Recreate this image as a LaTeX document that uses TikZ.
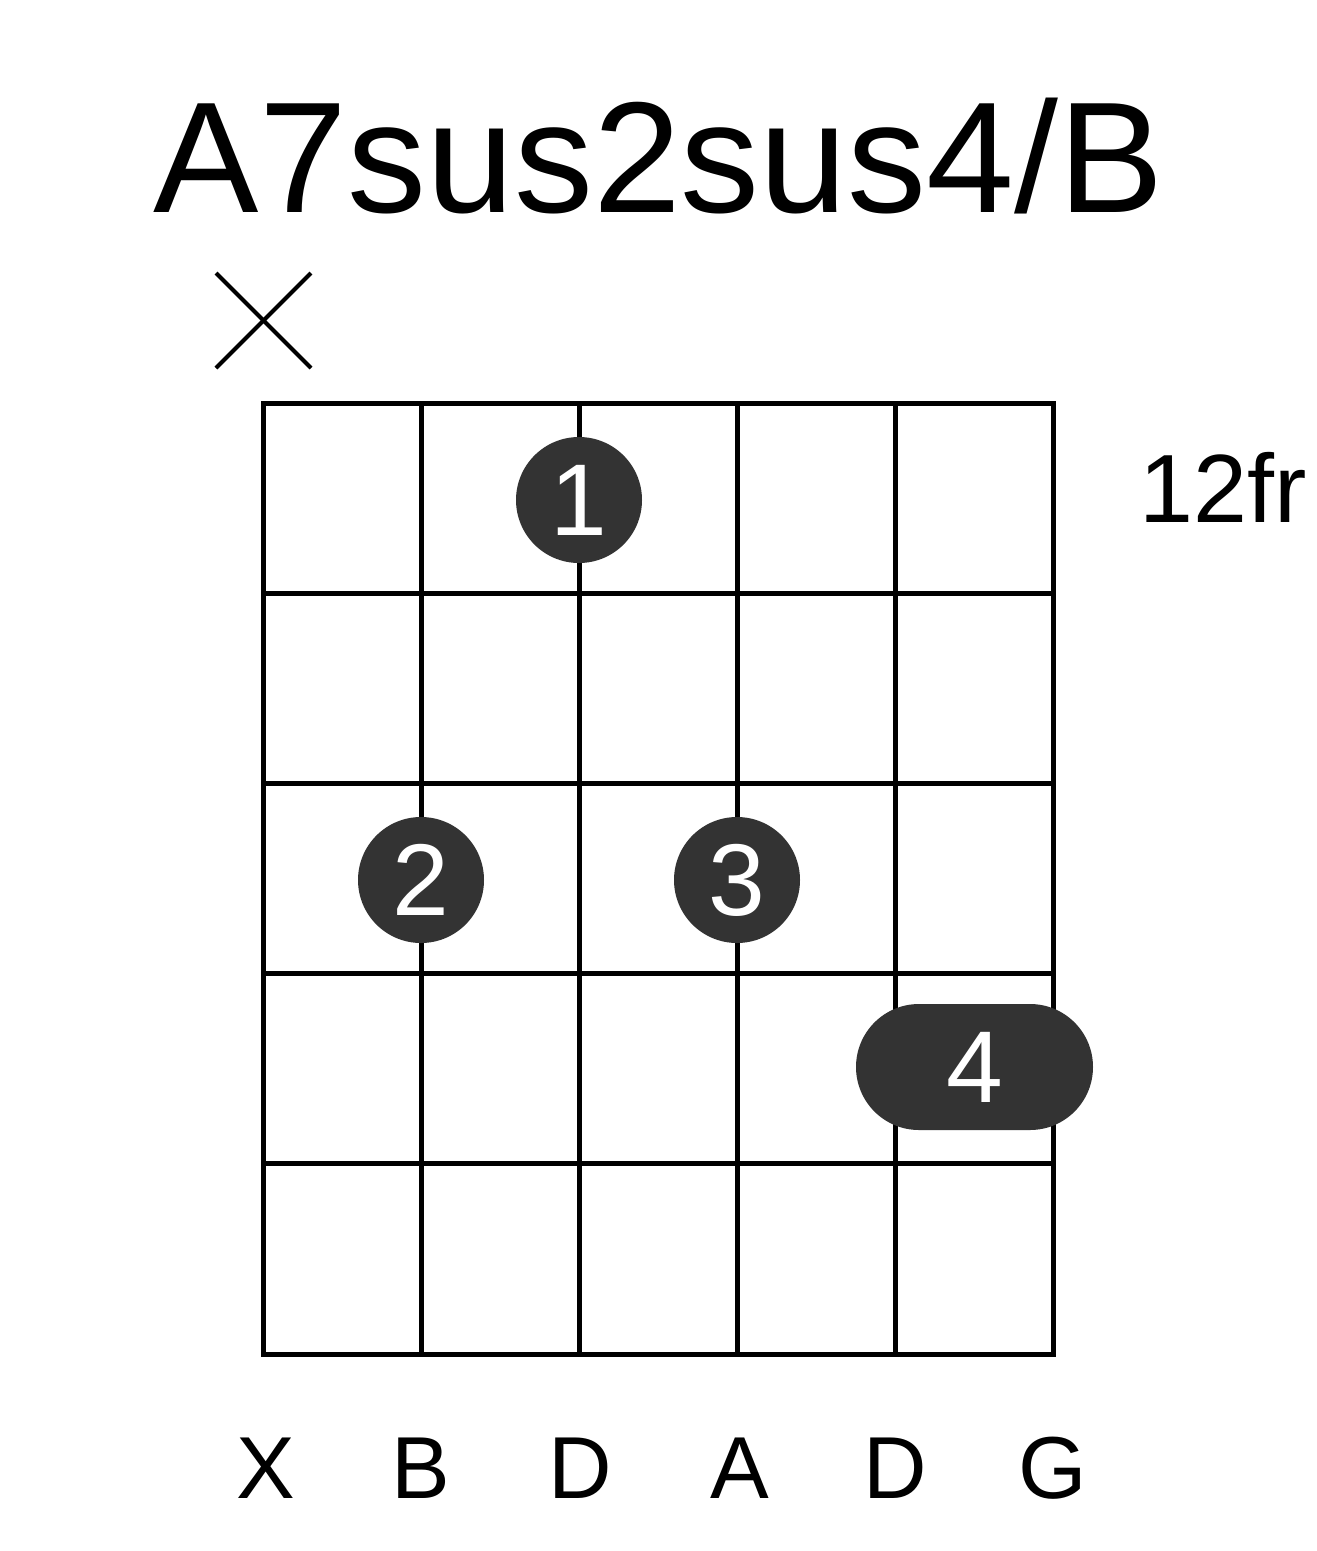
\documentclass[tikz,border=0pt]{standalone}
\usepackage{fontspec}
\setmainfont{Liberation Sans}
\definecolor{dotgray}{HTML}{333333}
\begin{document}
\begin{tikzpicture}[x=1pt,y=-1pt,
  gridline/.style={line width=5pt,black,line cap=rect},
  finger/.style={circle,fill=dotgray,minimum size=126pt,inner sep=0pt,text=white,font=\fontsize{102}{102}\selectfont},
  fingerbar/.style={rectangle,rounded corners=63pt,fill=dotgray,minimum width=237pt,minimum height=126pt,inner sep=0pt,text=white,font=\fontsize{102}{102}\selectfont},
  strlabel/.style={anchor=base,inner sep=0pt,font=\fontsize{88}{88}\selectfont},
  mutemark/.style={line width=4pt,black}]
\useasboundingbox[fill=white] (0,0) rectangle (1317,1551);
% title
\node[anchor=base,inner sep=0pt,font=\fontsize{158}{158}\selectfont] (title) at (659,212) {A7sus2sus4/B};
% fret position
\node[anchor=base west,inner sep=0pt,font=\fontsize{97}{97}\selectfont] (fret) at (1139,522) {12fr};
% grid
\foreach \i in {0,...,5}{
  \draw[gridline] ({263+158*\i},403) -- ({263+158*\i},1354);
  \draw[gridline] (263,{403+190.2*\i}) -- (1053,{403+190.2*\i});
}
% mute mark
\coordinate (m1) at (216,273);
\coordinate (m2) at (311,368);
\coordinate (m3) at (216,368);
\coordinate (m4) at (311,273);
\draw[mutemark] (m1) -- (m2);
\draw[mutemark] (m3) -- (m4);
% fingers
\node[finger] (f1) at (579,500) {1};
\node[finger] (f2) at (421,880) {2};
\node[finger] (f3) at (737,880) {3};
\node[fingerbar] (f4) at (974.5,1067) {4};
% string labels
\node[strlabel] (s1) at (266,1498) {X};
\node[strlabel] (s2) at (421,1498) {B};
\node[strlabel] (s3) at (580,1498) {D};
\node[strlabel] (s4) at (740,1498) {A};
\node[strlabel] (s5) at (895,1498) {D};
\node[strlabel] (s6) at (1053,1498) {G};
\end{tikzpicture}
\end{document}
